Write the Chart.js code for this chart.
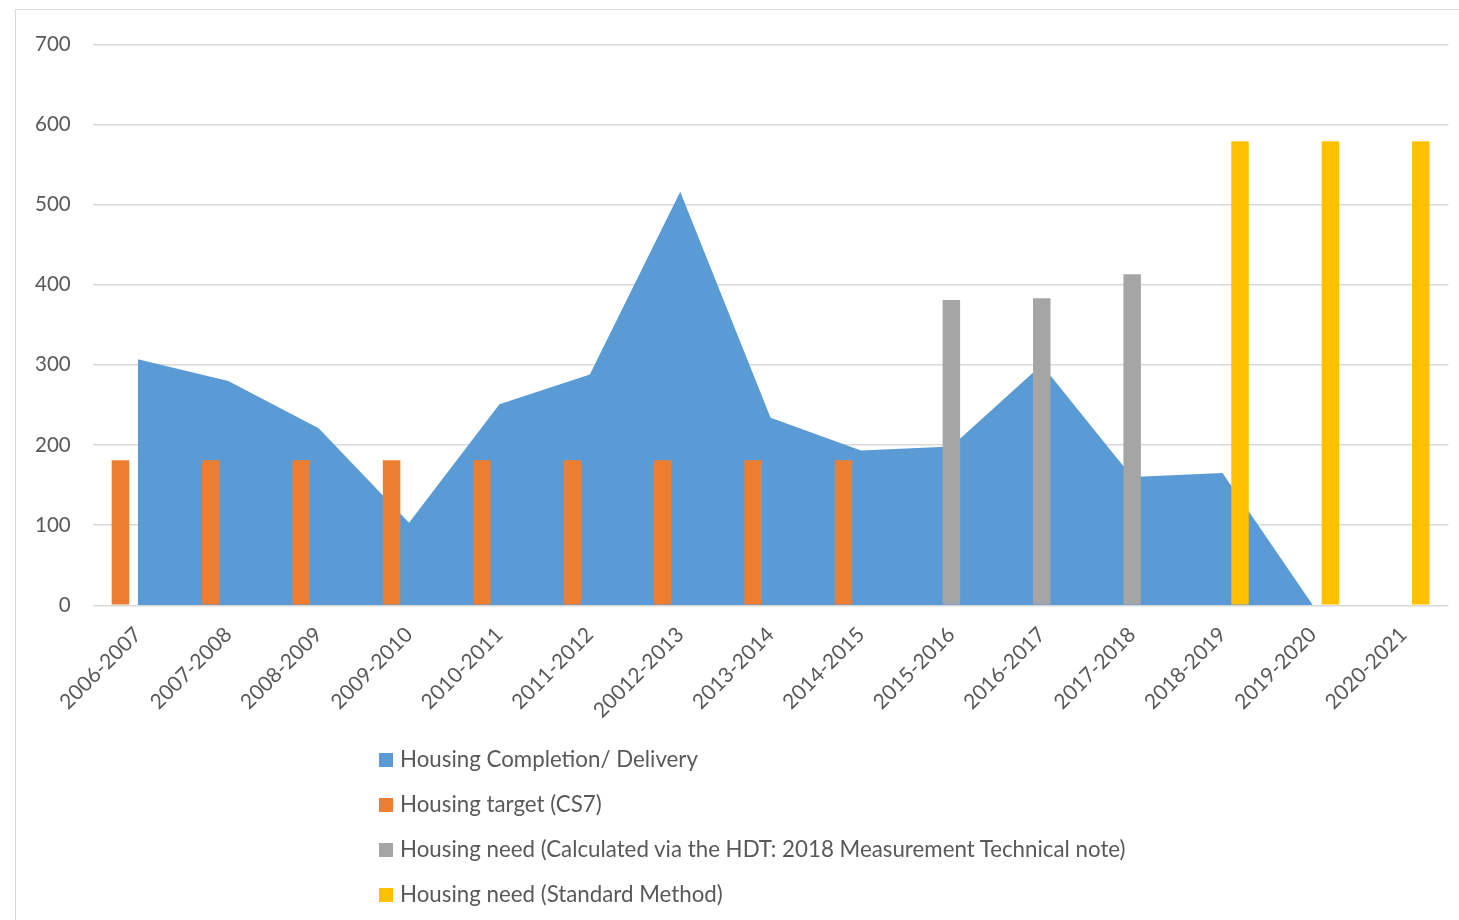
<!DOCTYPE html>
<html>
<head>
<meta charset="utf-8">
<script src="https://cdn.jsdelivr.net/npm/chart.js@4.4.1/dist/chart.umd.min.js"></script>
<style>
  html, body { margin: 0; padding: 0; background: #ffffff; }
  body { width: 1459px; height: 920px; position: relative; overflow: hidden; font-family: Lato, "Noto Sans", sans-serif; }
  #frame { position: absolute; left: 15px; top: 9px; width: 1500px; height: 1000px; border-left: 1.5px solid #d9d9d9; border-top: 1.5px solid #d9d9d9; }
  #wrap { position: absolute; left: 0; top: 0; width: 1459px; height: 920px; }
  #legend { position: absolute; left: 379px; top: 745px; }
  .li { position: relative; height: 45px; font-size: 22.3px; color: #595959; white-space: nowrap; }
  .li .sw { position: absolute; left: 0; top: 7.5px; width: 14px; height: 14px; }
  .li .tx { position: absolute; left: 21px; top: 0px; line-height: 28px; }
</style>
</head>
<body>
<div id="frame"></div>
<div id="wrap"><canvas id="c" width="1459" height="920"></canvas></div>
<div id="legend"></div>
<script>
const categories = ["2006-2007","2007-2008","2008-2009","2009-2010","2010-2011","2011-2012","20012-2013","2013-2014","2014-2015","2015-2016","2016-2017","2017-2018","2018-2019","2019-2020","2020-2021"];
const completions = [307, 280, 221, 103, 251, 288, 516, 234, 193, 198, 300, 160, 165, 0, null];
const targetCS7 = [181, 181, 181, 181, 181, 181, 181, 181, 181, null, null, null, null, null, null];
const needHDT = [null, null, null, null, null, null, null, null, null, 381, 383, 413, null, null, null];
const needStandard = [null, null, null, null, null, null, null, null, null, null, null, null, 579, 579, 579];
const seriesNames = ["Housing Completion/ Delivery", "Housing target (CS7)", "Housing need (Calculated via the HDT: 2018 Measurement Technical note)", "Housing need (Standard Method)"];
const seriesColors = ["#5B9BD5", "#ED7D31", "#A5A5A5", "#FFC000"];
const yTicks = [0, 100, 200, 300, 400, 500, 600, 700];

const textColor = "#595959";
const gridColor = "#D9D9D9";
const fontFamily = "Lato, 'Noto Sans', sans-serif";

const barCommon = { type: 'bar', categoryPercentage: 0.58, barPercentage: 1.0, order: 0, borderWidth: 0 };

new Chart(document.getElementById('c'), {
  data: {
    labels: categories,
    datasets: [
      { type: 'line', label: seriesNames[0], data: completions, backgroundColor: seriesColors[0], borderColor: 'rgba(0,0,0,0)', borderWidth: 0, pointRadius: 0, pointHoverRadius: 0, fill: 'origin', tension: 0, order: 5, spanGaps: false },
      Object.assign({ label: seriesNames[1], data: targetCS7, backgroundColor: seriesColors[1] }, barCommon),
      Object.assign({ label: seriesNames[2], data: needHDT, backgroundColor: seriesColors[2] }, barCommon),
      Object.assign({ label: seriesNames[3], data: needStandard, backgroundColor: seriesColors[3] }, barCommon)
    ]
  },
  options: {
    responsive: false,
    animation: false,
    events: [],
    layout: { padding: { top: 44.3, right: 10.5, left: 0, bottom: 0 } },
    plugins: { legend: { display: false }, tooltip: { enabled: false }, title: { display: false } },
    scales: {
      x: {
        offset: true,
        grid: { display: false, drawTicks: false },
        border: { display: false },
        ticks: { autoSkip: false, maxRotation: 45, minRotation: 45, color: textColor, padding: 17, font: { family: fontFamily, size: 21 } },
        afterFit: (s) => { s.height = 920 - 605.3; }
      },
      y: {
        min: 0, max: 700,
        afterBuildTicks: (s) => { s.ticks = yTicks.map(v => ({ value: v })); },
        grid: { color: gridColor, lineWidth: 1.5, drawTicks: false },
        border: { display: false },
        ticks: { color: textColor, padding: 22, font: { family: fontFamily, size: 20.5 } },
        afterFit: (s) => { s.width = 92.7; }
      }
    }
  }
});

const lg = document.getElementById('legend');
seriesNames.forEach((n, i) => {
  const d = document.createElement('div');
  d.className = 'li';
  d.innerHTML = '<span class="sw" style="background:' + seriesColors[i] + '"></span><span class="tx"></span>';
  d.querySelector('.tx').textContent = n;
  lg.appendChild(d);
});
</script>
</body>
</html>
